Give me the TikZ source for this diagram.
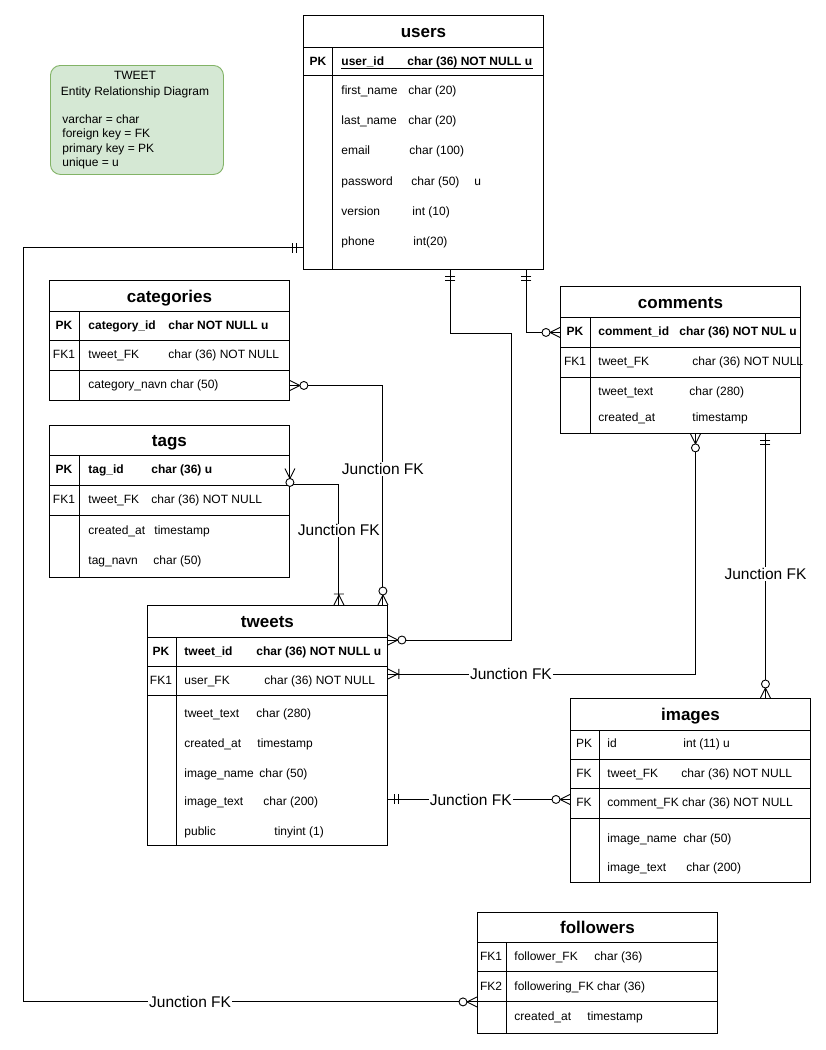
\documentclass[tikz,border=0pt]{standalone}
\usepackage{fontspec}
\setmainfont{Liberation Sans}
\usetikzlibrary{positioning}

\definecolor{legendfill}{HTML}{D5E8D4}
\definecolor{legendline}{HTML}{82B366}

\begin{document}
\begin{tikzpicture}[x=1pt, y=-1pt, line width=0.9pt,
        box/.style={draw, anchor=north west, minimum width=240pt, inner sep=0pt},
        ttl/.style={box, text height=12.2pt, text depth=0pt, font=\fontsize{17}{20}\selectfont\bfseries},
        fld/.style={anchor=west, inner sep=0pt, text height=8.6pt, text depth=0pt, font=\fontsize{12}{14}\selectfont},
        bfld/.style={fld, font=\fontsize{12}{14}\selectfont\bfseries},
        key/.style={fld, anchor=center},
        bkey/.style={bfld, anchor=center},
        jfk/.style={fill=white, inner sep=1pt, font=\fontsize{15.5}{18}\selectfont},
        one/.pic={\draw (7,-5) -- (7,5) (11,-5) -- (11,5);},
        zmany/.pic={\draw (0,-5) -- (10,0) -- (0,5); \draw[fill=white] (14,0) circle (4);},
        omany/.pic={\draw (0,-5) -- (10,0) -- (0,5) (11,-5) -- (11,5);}]
            \fill[white] (0,0) rectangle (825,1050);
            \useasboundingbox (0,0) rectangle (825,1050);

            \node[draw=legendline, fill=legendfill, rounded corners=10pt, anchor=north west,
                minimum width=173pt, minimum height=109pt] (legend) at (50,65) {};
            \node[key] (legend-t1) at (135,75) {TWEET};
            \node[key] (legend-t2) at (135,91) {Entity Relationship Diagram};
            \foreach \txt/\y [count=\i] in {varchar = char/119, foreign key = FK/133, primary key = PK/148, unique = u/162}
                \node[fld] (legend-l\i) at (62,\y) {\txt};

            \node[ttl, minimum height=32pt] (users) at (303,15) {users};
            \node[box, minimum height=28pt] (users-pk) at (303,47) {};
            \node[box, minimum height=194pt] (users-body) at (303,75) {};
            \draw ([xshift=29pt]users-pk.north west) -- ([xshift=29pt]users-body.south west);
            \node[bkey] (users-k) at (318,61) {PK};
            \node[bfld] (users-id) at (341,61) {user\_id};
            \node[bfld] (users-idt) at (407,61) {char (36) NOT NULL u};
            \draw[line width=0.8pt] ([yshift=-2.5pt]users-id.south west) -- ([yshift=-2.5pt]users-idt.south east);
            \foreach \nm/\ty/\x/\y [count=\i] in {first\_name/char (20)/408/90, last\_name/char (20)/408/120,
                email/char (100)/409/150, password/char (50)/411/181, version/int (10)/412/211, phone/int(20)/413/241}{
                \node[fld] (users-n\i) at (341,\y) {\nm};
                \node[fld] (users-t\i) at (\x,\y) {\ty};
            }
            \node[fld] (users-u) at (474,181) {u};

            \node[ttl, minimum height=31pt] (categories) at (49,280) {categories};
            \node[box, minimum height=29pt] (cat-pk) at (49,311) {};
            \node[box, minimum height=30pt] (cat-fk) at (49,340) {};
            \node[box, minimum height=30pt] (cat-navn) at (49,370) {};
            \draw ([xshift=30pt]cat-pk.north west) -- ([xshift=30pt]cat-navn.south west);
            \node[bkey] (cat-k1) at (64,325) {PK};
            \node[bfld] (cat-n1) at (88,325) {category\_id};
            \node[bfld] (cat-t1) at (168,325) {char NOT NULL u};
            \node[key] (cat-k2) at (64,354) {FK1};
            \node[fld] (cat-n2) at (88,354) {tweet\_FK};
            \node[fld] (cat-t2) at (168,354) {char (36) NOT NULL};
            \node[fld] (cat-n3) at (88,384) {category\_navn char (50)};

            \node[ttl, minimum height=30pt] (tags) at (49,425) {tags};
            \node[box, minimum height=30pt] (tags-pk) at (49,455) {};
            \node[box, minimum height=30pt] (tags-fk) at (49,485) {};
            \node[box, minimum height=62pt] (tags-body) at (49,515) {};
            \draw ([xshift=30pt]tags-pk.north west) -- ([xshift=30pt]tags-body.south west);
            \node[bkey] (tags-k1) at (64,469) {PK};
            \node[bfld] (tags-n1) at (88,469) {tag\_id};
            \node[bfld] (tags-t1) at (151,469) {char (36) u};
            \node[key] (tags-k2) at (64,499) {FK1};
            \node[fld] (tags-n2) at (88,499) {tweet\_FK};
            \node[fld] (tags-t2) at (151,499) {char (36) NOT NULL};
            \node[fld] (tags-n3) at (88,530) {created\_at};
            \node[fld] (tags-t3) at (154,530) {timestamp};
            \node[fld] (tags-n4) at (88,560) {tag\_navn};
            \node[fld] (tags-t4) at (153,560) {char (50)};

            \node[ttl, minimum height=31pt] (comments) at (560,286) {comments};
            \node[box, minimum height=30pt] (com-pk) at (560,317) {};
            \node[box, minimum height=30pt] (com-fk) at (560,347) {};
            \node[box, minimum height=56pt] (com-body) at (560,377) {};
            \draw ([xshift=30pt]com-pk.north west) -- ([xshift=30pt]com-body.south west);
            \node[bkey] (com-k1) at (575,331) {PK};
            \node[bfld] (com-n1) at (598,331) {comment\_id};
            \node[bfld] (com-t1) at (679,331) {char (36) NOT NUL u};
            \node[key] (com-k2) at (575,361) {FK1};
            \node[fld] (com-n2) at (598,361) {tweet\_FK};
            \node[fld] (com-t2) at (692,361) {char (36) NOT NULL};
            \node[fld] (com-n3) at (598,391) {tweet\_text};
            \node[fld] (com-t3) at (689,391) {char (280)};
            \node[fld] (com-n4) at (598,417) {created\_at};
            \node[fld] (com-t4) at (692,417) {timestamp};

            \node[ttl, minimum height=32pt] (tweets) at (147,605) {tweets};
            \node[box, minimum height=29pt] (tw-pk) at (147,637) {};
            \node[box, minimum height=29pt] (tw-fk) at (147,666) {};
            \node[box, minimum height=150pt] (tw-body) at (147,695) {};
            \draw ([xshift=29pt]tw-pk.north west) -- ([xshift=29pt]tw-body.south west);
            \node[bkey] (tw-k1) at (161,651) {PK};
            \node[bfld] (tw-n1) at (184,651) {tweet\_id};
            \node[bfld] (tw-t1) at (256,651) {char (36) NOT NULL u};
            \node[key] (tw-k2) at (161,680) {FK1};
            \node[fld] (tw-n2) at (184,680) {user\_FK};
            \node[fld] (tw-t2) at (264,680) {char (36) NOT NULL};
            \foreach \nm/\ty/\x/\y [count=\i] in {tweet\_text/char (280)/256/713, created\_at/timestamp/257/743,
                image\_name/char (50)/259/773, image\_text/char (200)/263/801, public/tinyint (1)/274/831}{
                \node[fld] (tw-n\i-b) at (184,\y) {\nm};
                \node[fld] (tw-t\i-b) at (\x,\y) {\ty};
            }

            \node[ttl, minimum height=32pt] (images) at (570,698) {images};
            \node[box, minimum height=29pt] (img-pk) at (570,730) {};
            \node[box, minimum height=29pt] (img-fk1) at (570,759) {};
            \node[box, minimum height=30pt] (img-fk2) at (570,788) {};
            \node[box, minimum height=64pt] (img-body) at (570,818) {};
            \draw ([xshift=29pt]img-pk.north west) -- ([xshift=29pt]img-body.south west);
            \node[key] (img-k1) at (584,743) {PK};
            \node[fld] (img-n1) at (607,743) {id};
            \node[fld] (img-t1) at (683,743) {int (11) u};
            \node[key] (img-k2) at (584,773) {FK};
            \node[fld] (img-n2) at (607,773) {tweet\_FK};
            \node[fld] (img-t2) at (681,773) {char (36) NOT NULL};
            \node[key] (img-k3) at (584,802) {FK};
            \node[fld] (img-n3) at (607,802) {comment\_FK char (36) NOT NULL};
            \node[fld] (img-n4) at (607,838) {image\_name};
            \node[fld] (img-t4) at (683,838) {char (50)};
            \node[fld] (img-n5) at (607,867) {image\_text};
            \node[fld] (img-t5) at (686,867) {char (200)};

            \node[ttl, minimum height=30pt] (followers) at (477,912) {followers};
            \node[box, minimum height=29pt] (fol-fk1) at (477,942) {};
            \node[box, minimum height=30pt] (fol-fk2) at (477,971) {};
            \node[box, minimum height=32pt] (fol-body) at (477,1001) {};
            \draw ([xshift=29pt]fol-fk1.north west) -- ([xshift=29pt]fol-body.south west);
            \node[key] (fol-k1) at (491,956) {FK1};
            \node[fld] (fol-n1) at (514,956) {follower\_FK};
            \node[fld] (fol-t1) at (594,956) {char (36)};
            \node[key] (fol-k2) at (491,986) {FK2};
            \node[fld] (fol-n2) at (514,986) {followering\_FK char (36)};
            \node[fld] (fol-n3) at (514,1016) {created\_at};
            \node[fld] (fol-t3) at (587,1016) {timestamp};

            \draw ([yshift=22pt]users-body.south west) -- ++(-280,0)
                |- node[jfk, pos=0.684] {Junction FK} (fol-fk2.south west);
            \pic[rotate=180] at ([yshift=22pt]users-body.south west) {one};
            \pic[rotate=180] at (fol-fk2.south west) {zmany};

            \draw ([xshift=27pt]users-body.south) -- ++(0,64) -- ++(61,0) |- ([yshift=-3pt]tw-pk.north east);
            \pic[rotate=-90] at ([xshift=27pt]users-body.south) {one};
            \pic at ([yshift=-3pt]tw-pk.north east) {zmany};

            \draw ([xshift=103pt]users-body.south) |- (com-pk.west);
            \pic[rotate=-90] at ([xshift=103pt]users-body.south) {one};
            \pic[rotate=180] at (com-pk.west) {zmany};

            \draw (cat-navn.east) -| node[jfk, pos=0.69] {Junction FK} ([xshift=-5pt]tweets.north east);
            \pic at (cat-navn.east) {zmany};
            \pic[rotate=90] at ([xshift=-5pt]tweets.north east) {zmany};

            \draw ([yshift=2pt]tags-pk.east) -- ++(0,16) -| node[jfk, pos=0.69] {Junction FK} ([xshift=-49pt]tweets.north east);
            \pic[rotate=-90] at ([yshift=2pt]tags-pk.east) {zmany};
            \pic[rotate=90] at ([xshift=-49pt]tweets.north east) {omany};

            \draw ([xshift=15pt]com-body.south) |- node[jfk, pos=0.8] {Junction FK} ([yshift=7pt]tw-fk.east);
            \pic[rotate=-90] at ([xshift=15pt]com-body.south) {zmany};
            \pic at ([yshift=7pt]tw-fk.east) {omany};

            \draw ([xshift=85pt]com-body.south) -- node[jfk, pos=0.53] {Junction FK} ([xshift=75pt]images.north);
            \pic[rotate=-90] at ([xshift=85pt]com-body.south) {one};
            \pic[rotate=90] at ([xshift=75pt]images.north) {zmany};

            \draw ([yshift=-29pt]tw-body.east) -- node[jfk, pos=0.455] {Junction FK} ([yshift=4pt]img-fk2.west);
            \pic at ([yshift=-29pt]tw-body.east) {one};
            \pic[rotate=180] at ([yshift=4pt]img-fk2.west) {zmany};
\end{tikzpicture}
\end{document}
